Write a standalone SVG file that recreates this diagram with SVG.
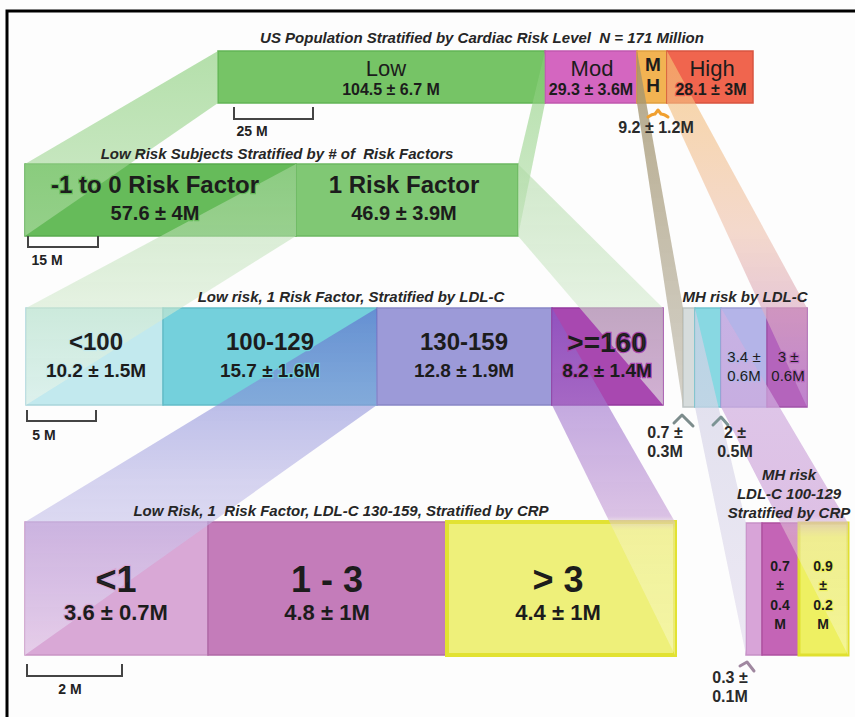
<svg xmlns="http://www.w3.org/2000/svg" xmlns:xlink="http://www.w3.org/1999/xlink" width="855" height="717" viewBox="0 0 855 717">
<defs>
<style>
.t{font-family:"Liberation Sans",Arial,sans-serif;fill:#1c1c1c;text-anchor:middle}
.ti{font-family:"Liberation Sans",Arial,sans-serif;font-style:italic;font-weight:bold;font-size:15px;fill:#262626;text-anchor:middle;white-space:pre}
.b{font-weight:bold}
.bx{stroke-width:1.5}
.sc{fill:none;stroke:#444;stroke-width:2}
.scl{font-family:"Liberation Sans",Arial,sans-serif;font-weight:bold;font-size:14px;fill:#222;text-anchor:middle}
.sd{font-family:"Liberation Sans",Arial,sans-serif;font-weight:bold;font-size:16px;fill:#2a2a2a;text-anchor:middle}
.chev{fill:none;stroke-width:3;stroke-linecap:round;stroke-linejoin:round}
.mk{stroke:#000;stroke-width:2.5;fill:#000}
</style>
<linearGradient id="gA" x1="0" y1="0" x2="0" y2="1"><stop offset="0" stop-color="#84cc74" stop-opacity="0.6"/><stop offset="1" stop-color="#b4deaa" stop-opacity="0.6"/></linearGradient>
<linearGradient id="gB" x1="0" y1="0" x2="0" y2="1"><stop offset="0" stop-color="#acd8a2" stop-opacity="0.55"/><stop offset="1" stop-color="#eef6ec" stop-opacity="0.6"/></linearGradient>
<linearGradient id="gCL" x1="0" y1="0" x2="0" y2="1"><stop offset="0" stop-color="#5c68cc" stop-opacity="0.62"/><stop offset="0.5" stop-color="#b4b0e4" stop-opacity="0.55"/><stop offset="1" stop-color="#eee6f6" stop-opacity="0.6"/></linearGradient>
<linearGradient id="gCR" x1="0" y1="0" x2="0" y2="1"><stop offset="0" stop-color="#8458c8" stop-opacity="0.62"/><stop offset="0.6" stop-color="#c8a2d8" stop-opacity="0.65"/><stop offset="0.64" stop-color="#f6f2d0" stop-opacity="0.4"/><stop offset="1" stop-color="#fffff0" stop-opacity="0.35"/></linearGradient>
<linearGradient id="gDL" x1="0" y1="0" x2="0" y2="1"><stop offset="0" stop-color="#a09068" stop-opacity="0.8"/><stop offset="1" stop-color="#c2beb2" stop-opacity="0.7"/></linearGradient>
<linearGradient id="gDR" x1="0" y1="0" x2="0" y2="1"><stop offset="0" stop-color="#f6c070" stop-opacity="0.65"/><stop offset="0.5" stop-color="#f0c6b2" stop-opacity="0.65"/><stop offset="1" stop-color="#c490d6" stop-opacity="0.7"/></linearGradient>
<linearGradient id="gEL" x1="0" y1="0" x2="0" y2="1"><stop offset="0" stop-color="#d0d0e4" stop-opacity="0.7"/><stop offset="1" stop-color="#e4deee" stop-opacity="0.7"/></linearGradient>
<linearGradient id="gER" x1="0" y1="0" x2="0" y2="1"><stop offset="0" stop-color="#d0b2e2" stop-opacity="0.7"/><stop offset="0.6" stop-color="#cea4d8" stop-opacity="0.7"/><stop offset="0.66" stop-color="#f0e8d8" stop-opacity="0.4"/><stop offset="1" stop-color="#fffff0" stop-opacity="0.35"/></linearGradient>
<mask id="txtmask" maskUnits="userSpaceOnUse" x="0" y="0" width="855" height="717">
<rect x="0" y="0" width="855" height="717" fill="#fff"/>
<use class="mk" href="#l-low"/><use class="mk" href="#l-mod"/><use class="mk" href="#l-mh"/><use class="mk" href="#l-high"/>
<use class="mk" href="#l-rf0"/><use class="mk" href="#l-rf1"/>
<use class="mk" href="#l-ldl100"/><use class="mk" href="#l-ldl129"/><use class="mk" href="#l-ldl159"/><use class="mk" href="#l-ldl160"/>
<use class="mk" href="#l-crp1"/><use class="mk" href="#l-crp13"/><use class="mk" href="#l-crp3"/>
<use class="mk" href="#l-mhldl159"/><use class="mk" href="#l-mhldl160"/>
<use class="mk" href="#l-mhcrp13"/><use class="mk" href="#l-mhcrp3"/>
</mask>
</defs>

<rect x="0" y="0" width="855" height="717" fill="#fdfdfd"/>
<path d="M7,717 V11 H855" fill="none" stroke="#000" stroke-width="3"/>

<!-- Top row -->
<g id="low">
<rect class="bx" x="218" y="51" width="327" height="52" fill="#76c466" stroke="#62b456"/>
<g id="l-low"><text class="t" x="386" y="76" font-size="22">Low</text>
<text class="t b" x="391" y="95" font-size="16">104.5 ± 6.7 M</text></g>
</g>
<g id="mod">
<rect class="bx" x="545" y="51" width="92" height="52" fill="#d466c0" stroke="#c058ae"/>
<g id="l-mod"><text class="t" x="592" y="76" font-size="22">Mod</text>
<text class="t b" x="591" y="95" font-size="16">29.3 ± 3.6M</text></g>
</g>
<g id="mh">
<rect class="bx" x="637" y="51" width="30" height="52" fill="#f2b352" stroke="#e0a040"/>
<g id="l-mh"><text class="t b" x="653" y="71" font-size="19">M</text>
<text class="t b" x="653" y="92" font-size="19">H</text></g>
</g>
<g id="high">
<rect class="bx" x="667" y="51" width="86" height="52" fill="#f0654e" stroke="#d85440"/>
<g id="l-high"><text class="t" x="712" y="76" font-size="22">High</text>
<text class="t b" x="711" y="95" font-size="16" fill="#4a2620">28.1 ± 3M</text></g>
</g>

<!-- Row 2 -->
<g id="rf0">
<rect class="bx" x="25" y="164" width="271" height="72" fill="#66bb5a" stroke="#58aa4e"/>
<g id="l-rf0"><text class="t b" x="155" y="193" font-size="24">-1 to 0 Risk Factor</text>
<text class="t b" x="155" y="220" font-size="20">57.6 ± 4M</text></g>
</g>
<g id="rf1">
<rect class="bx" x="296" y="164" width="222" height="72" fill="#80c874" stroke="#6cb862"/>
<g id="l-rf1"><text class="t b" x="404" y="193" font-size="24">1 Risk Factor</text>
<text class="t b" x="404" y="220" font-size="20">46.9 ± 3.9M</text></g>
</g>

<!-- Row 3 -->
<g id="ldl100">
<rect class="bx" x="26" y="308" width="137" height="97" fill="#c2e9ee" stroke="#a8d4da"/>
<g id="l-ldl100"><text class="t b" x="96" y="350" font-size="24">&lt;100</text>
<text class="t b" x="96" y="377" font-size="19">10.2 ± 1.5M</text></g>
</g>
<g id="ldl129">
<rect class="bx" x="163" y="308" width="214" height="97" fill="#74d0dc" stroke="#62bcc8"/>
<g id="l-ldl129"><text class="t b" x="270" y="350" font-size="24">100-129</text>
<text class="t b" x="270" y="377" font-size="19">15.7 ± 1.6M</text></g>
</g>
<g id="ldl159">
<rect class="bx" x="377" y="308" width="175" height="97" fill="#9c9ad8" stroke="#8886c6"/>
<g id="l-ldl159"><text class="t b" x="464" y="350" font-size="24">130-159</text>
<text class="t b" x="464" y="377" font-size="19">12.8 ± 1.9M</text></g>
</g>
<g id="ldl160">
<rect class="bx" x="552" y="308" width="111" height="97" fill="#a848b0" stroke="#94389e"/>
<g id="l-ldl160"><text class="t b" x="607" y="352" font-size="28">&gt;=160</text>
<text class="t b" x="607" y="377" font-size="19" fill="#2a2864">8.2 ± 1.4M</text></g>
</g>

<!-- Row 4 -->
<g id="crp1">
<rect class="bx" x="25" y="522" width="183" height="133" fill="#d9a8d6" stroke="#c894c4"/>
<g id="l-crp1"><text class="t b" x="116" y="592" font-size="36">&lt;1</text>
<text class="t b" x="116" y="620" font-size="22">3.6 ± 0.7M</text></g>
</g>
<g id="crp13">
<rect class="bx" x="208" y="522" width="239" height="133" fill="#c47cba" stroke="#b068a6"/>
<g id="l-crp13"><text class="t b" x="327" y="592" font-size="36">1 - 3</text>
<text class="t b" x="327" y="620" font-size="22">4.8 ± 1M</text></g>
</g>
<g id="crp3">
<rect x="447" y="522" width="228" height="133" fill="#eef07a" stroke="#e2e232" stroke-width="4"/>
<g id="l-crp3"><text class="t b" x="558" y="592" font-size="36">&gt; 3</text>
<text class="t b" x="558" y="620" font-size="22">4.4 ± 1M</text></g>
</g>

<!-- MH risk by LDL-C -->
<g id="mhldl100"><rect class="bx" x="683" y="308" width="12" height="99" fill="#d6dcdc" stroke="#bcc4c4"/></g>
<g id="mhldl129"><rect class="bx" x="695" y="308" width="26" height="99" fill="#88d8e2" stroke="#70c4d0"/></g>
<g id="mhldl159">
<rect class="bx" x="721" y="308" width="46" height="99" fill="#b4b4e8" stroke="#9c9cd4"/>
<g id="l-mhldl159"><text class="t" x="744" y="362" font-size="15" fill="#56648a">3.4 ±</text>
<text class="t" x="744" y="381" font-size="15" fill="#56648a">0.6M</text></g>
</g>
<g id="mhldl160">
<rect class="bx" x="767" y="308" width="40" height="99" fill="#b464bc" stroke="#a052a8"/>
<g id="l-mhldl160"><text class="t" x="788" y="362" font-size="15" fill="#2e2e3a">3 ±</text>
<text class="t" x="788" y="381" font-size="15" fill="#2e2e3a">0.6M</text></g>
</g>

<!-- MH LDL 100-129 by CRP -->
<g id="mhcrp1"><rect class="bx" x="746" y="523" width="16" height="132" fill="#d8a4d8" stroke="#c690c6"/></g>
<g id="mhcrp13">
<rect class="bx" x="762" y="523" width="37" height="132" fill="#c464b6" stroke="#ae50a0"/>
<g id="l-mhcrp13"><text class="t b" x="780" y="571" font-size="14">0.7</text>
<text class="t b" x="780" y="590" font-size="14">±</text>
<text class="t b" x="780" y="610" font-size="14">0.4</text>
<text class="t b" x="780" y="629" font-size="14">M</text></g>
</g>
<g id="mhcrp3">
<rect x="799" y="523" width="49" height="132" fill="#eef062" stroke="#e0e030" stroke-width="3"/>
<g id="l-mhcrp3"><text class="t b" x="823" y="571" font-size="14">0.9</text>
<text class="t b" x="823" y="590" font-size="14">±</text>
<text class="t b" x="823" y="610" font-size="14">0.2</text>
<text class="t b" x="823" y="629" font-size="14">M</text></g>
</g>

<!-- Connectors (zoom bands) -->
<g id="connectors" mask="url(#txtmask)">
<polygon points="218,51 218,103 25,236 25,164" fill="url(#gA)"/>
<polygon points="545,51 545,103 518,236 518,164" fill="url(#gA)"/>
<polygon points="296,164 296,236 26,405 26,308" fill="url(#gB)"/>
<polygon points="518,164 518,236 663,405 663,308" fill="url(#gB)"/>
<polygon points="377,308 377,405 25,655 25,522" fill="url(#gCL)"/>
<polygon points="552,308 552,405 675,655 675,522" fill="url(#gCR)"/>
<polygon points="637,51 637,103 683,407 683,308" fill="url(#gDL)"/>
<polygon points="667,51 667,103 807,407 807,308" fill="url(#gDR)"/>
<polygon points="695,308 695,407 746,655 746,523" fill="url(#gEL)"/>
<polygon points="721,308 721,407 848,655 848,523" fill="url(#gER)"/>
</g>

<!-- Titles -->
<g id="titles">
<text class="ti" x="482" y="43" xml:space="preserve">US Population Stratified by Cardiac Risk Level  N = 171 Million</text>
<text class="ti" x="277" y="159" xml:space="preserve">Low Risk Subjects Stratified by # of  Risk Factors</text>
<text class="ti" x="351" y="302">Low risk, 1 Risk Factor, Stratified by LDL-C</text>
<text class="ti" x="745" y="302">MH risk by LDL-C</text>
<text class="ti" x="341" y="516" xml:space="preserve">Low Risk, 1  Risk Factor, LDL-C 130-159, Stratified by CRP</text>
<text class="ti" x="789" y="480">MH risk</text>
<text class="ti" x="789" y="499">LDL-C 100-129</text>
<text class="ti" x="789" y="518">Stratified by CRP</text>
</g>

<!-- Scale bars -->
<g id="scales">
<path class="sc" d="M234,107 V119 H313 V107"/>
<text class="scl" x="252" y="136">25 M</text>
<path class="sc" d="M28,236 V247 H98 V236"/>
<text class="scl" x="47" y="265">15 M</text>
<path class="sc" d="M27,410 V421 H96 V410"/>
<text class="scl" x="44" y="440">5 M</text>
<path class="sc" d="M27,664 V676 H122 V664"/>
<text class="scl" x="70" y="694">2 M</text>
</g>

<!-- Side annotations -->
<g id="annotations">
<path class="chev" d="M648,117 Q652,114 655,114 L658,110 L661,114 Q664,114 668,117" stroke="#f0a030" stroke-width="2"/>
<text class="sd" x="656" y="133">9.2 ± 1.2M</text>
<path class="chev" d="M674,423 L682,415 L693,426" stroke="#7c8c8c"/>
<text class="sd" x="665" y="438">0.7 ±</text>
<text class="sd" x="665" y="457">0.3M</text>
<path class="chev" d="M713,425 L721,417 L728,425" stroke="#7c9494"/>
<text class="sd" x="735" y="438">2 ±</text>
<text class="sd" x="735" y="457">0.5M</text>
<path class="chev" d="M740,666 L747,662 L754,671" stroke="#a088a0"/>
<text class="sd" x="730" y="683">0.3 ±</text>
<text class="sd" x="730" y="702">0.1M</text>
</g>
</svg>
